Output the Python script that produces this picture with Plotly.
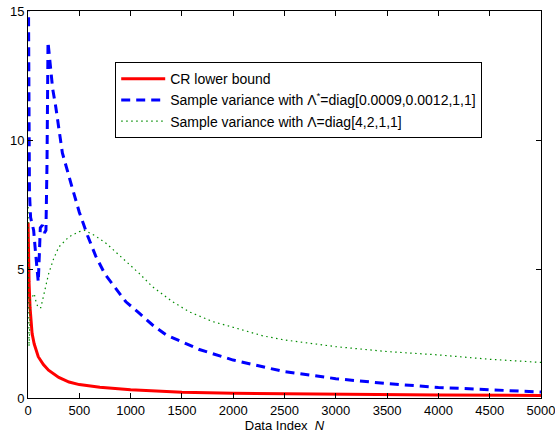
import plotly.graph_objects as go

# CR lower bound
n_cr = [1, 5, 10, 20, 40, 60, 100, 150, 200, 300, 400, 500, 700, 1000, 1500, 2000, 3000, 4000, 5000]
v_cr = [6.8, 5.5, 4.5, 3.5, 2.5, 2.1, 1.6, 1.3, 1.08, 0.8, 0.62, 0.52, 0.42, 0.32, 0.22, 0.18, 0.14, 0.12, 0.1]

# Sample variance with Lambda* (blue dashed)
n_b = [1, 5, 10, 14, 25, 40, 55, 70, 85, 100, 110, 120, 140, 160, 175, 185, 195, 210, 240, 270, 335,
       420, 500, 580, 660, 750, 860, 954, 1084, 1214, 1345, 1670, 2000, 2500, 3000, 3500, 4000, 4500, 5000]
v_b = [16.5, 15.2, 11.0, 8.0, 7.0, 6.8, 6.5, 5.8, 5.2, 4.5, 5.5, 6.6, 6.7, 6.4, 6.5, 9.0, 13.8, 13.2, 12.0,
       11.3, 9.5, 8.3, 7.2, 6.3, 5.5, 4.8, 4.2, 3.73, 3.29, 2.83, 2.45, 1.88, 1.47, 1.02, 0.75, 0.56, 0.41,
       0.31, 0.23]

# Sample variance with Lambda (green dotted)
n_g = [1, 5, 10, 15, 20, 40, 60, 80, 100, 125, 150, 200, 250, 300, 400, 500, 550, 650, 760, 889, 1084,
       1214, 1410, 1572, 1800, 2000, 2288, 2500, 3000, 3500, 4000, 4500, 5000]
v_g = [7.4, 4.0, 2.0, 2.5, 3.8, 3.9, 4.05, 3.7, 3.5, 3.5, 3.9, 4.8, 5.4, 5.85, 6.25, 6.45, 6.5, 6.3, 6.0,
       5.54, 4.83, 4.31, 3.73, 3.34, 2.96, 2.74, 2.41, 2.25, 1.99, 1.8, 1.67, 1.5, 1.38]

x_ticks = list(range(0, 5001, 500))
y_ticks = [0, 5, 10, 15]

FONT = "Liberation Sans, Arial, sans-serif"

fig = go.Figure()
fig.add_trace(go.Scatter(x=n_cr, y=v_cr, mode="lines", name="CR lower bound",
                         line=dict(color="rgb(255,0,0)", width=3)))
fig.add_trace(go.Scatter(x=n_b, y=v_b, mode="lines",
                         name="Sample variance with Λ<sup>*</sup>=diag[0.0009,0.0012,1,1]",
                         line=dict(color="rgb(0,0,255)", width=3, dash="9px,6px")))
fig.add_trace(go.Scatter(x=n_g, y=v_g, mode="lines",
                         name="Sample variance with Λ=diag[4,2,1,1]",
                         line=dict(color="rgb(0,140,0)", width=1.2, dash="1.5px,3.5px")))

axis_common = dict(showline=True, linecolor="black", linewidth=1, mirror="ticks",
                   ticks="inside", ticklen=5, tickcolor="black", showgrid=False, zeroline=False,
                   automargin=False, ticklabeloverflow="allow",
                   tickfont=dict(family=FONT, size=13, color="black"))

fig.update_layout(
    width=555, height=437,
    margin=dict(l=28, r=14, t=11, b=39),
    paper_bgcolor="white", plot_bgcolor="white",
    font=dict(family=FONT, size=13, color="black"),
    xaxis=dict(range=[0, 5000], tickvals=x_ticks,
               title=dict(text="Data Index  <i>N</i>", standoff=0, font=dict(size=13)),
               **axis_common),
    yaxis=dict(range=[0, 15], tickvals=y_ticks, **axis_common),
    legend=dict(x=0.17, y=0.868, xanchor="left", yanchor="top", bgcolor="white",
                bordercolor="black", borderwidth=1, font=dict(family=FONT, size=14),
                tracegroupgap=0, itemwidth=44),
    showlegend=True,
)

fig.write_html("out.html", config={"displayModeBar": False},
               post_script="document.body.style.margin='0';")
